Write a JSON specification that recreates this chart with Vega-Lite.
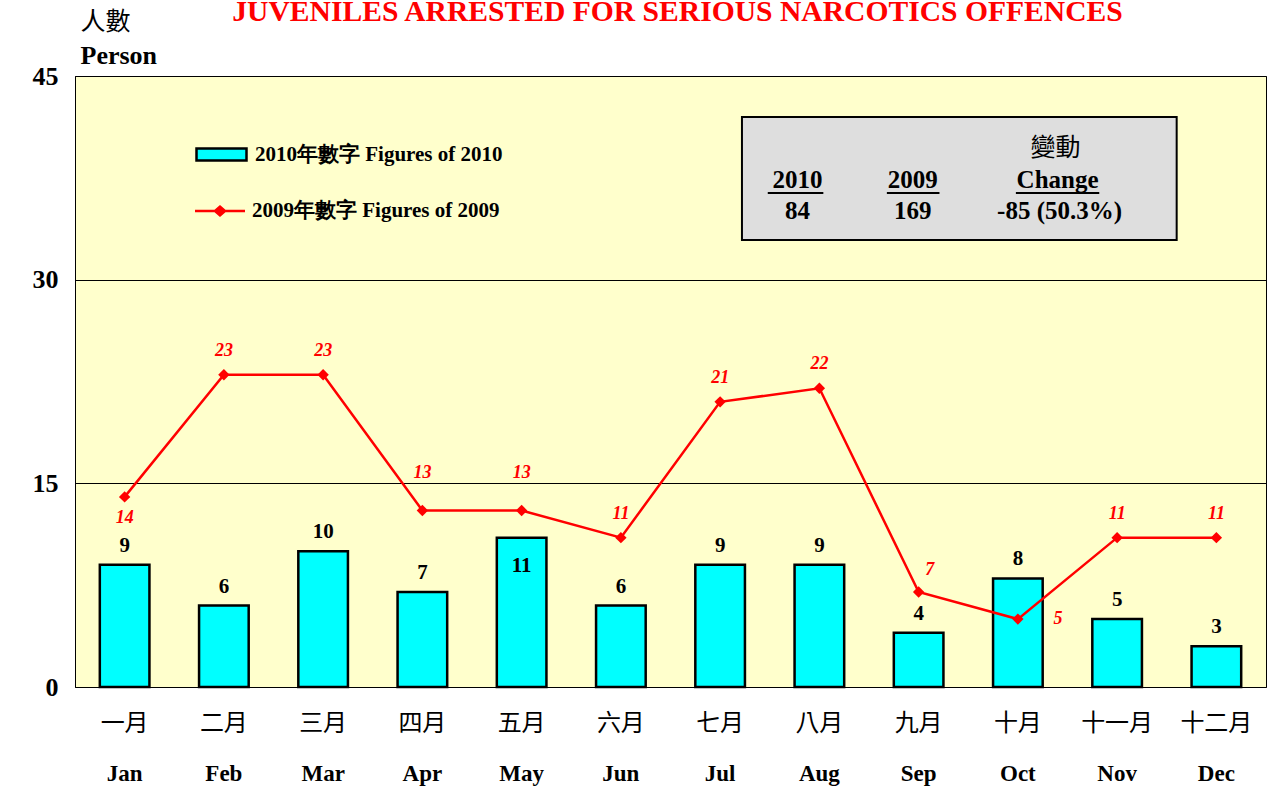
{
  "$schema": "https://vega.github.io/schema/vega-lite/v6.json",
  "width": 1191,
  "height": 611,
  "autosize": "none",
  "padding": {"left": 75, "top": 76, "right": 13, "bottom": 120},
  "background": "white",
  "config": {
    "view": {"fill": "#FFFFCC", "stroke": "black", "strokeWidth": 1},
    "font": "Liberation Serif"
  },
  "title": {
    "text": "JUVENILES ARRESTED FOR SERIOUS NARCOTICS OFFENCES",
    "color": "#FF0000",
    "font": "Liberation Serif",
    "fontSize": 29.6,
    "fontWeight": "bold",
    "anchor": "middle",
    "frame": "group",
    "dx": 7,
    "offset": 0,
    "dy": 42,
    "baseline": "alphabetic"
  },
  "datasets": {
    "months": [
      {"m": "一月|Jan", "en": "Jan", "y2010": 9, "y2009": 14},
      {"m": "二月|Feb", "en": "Feb", "y2010": 6, "y2009": 23},
      {"m": "三月|Mar", "en": "Mar", "y2010": 10, "y2009": 23},
      {"m": "四月|Apr", "en": "Apr", "y2010": 7, "y2009": 13},
      {"m": "五月|May", "en": "May", "y2010": 11, "y2009": 13},
      {"m": "六月|Jun", "en": "Jun", "y2010": 6, "y2009": 11},
      {"m": "七月|Jul", "en": "Jul", "y2010": 9, "y2009": 21},
      {"m": "八月|Aug", "en": "Aug", "y2010": 9, "y2009": 22},
      {"m": "九月|Sep", "en": "Sep", "y2010": 4, "y2009": 7},
      {"m": "十月|Oct", "en": "Oct", "y2010": 8, "y2009": 5},
      {"m": "十一月|Nov", "en": "Nov", "y2010": 5, "y2009": 11},
      {"m": "十二月|Dec", "en": "Dec", "y2010": 3, "y2009": 11}
    ],
    "box": [{"x1": 6.72, "x2": 11.1, "y1": 32.92, "y2": 41.98}],
    "tbl": [
      {"t": "變動", "cx": 9.88, "cy": 39.7},
      {"t": "2010", "cx": 7.28, "cy": 37.34},
      {"t": "2009", "cx": 8.44, "cy": 37.34},
      {"t": "Change", "cx": 9.9, "cy": 37.34},
      {"t": "84", "cx": 7.28, "cy": 35.06},
      {"t": "169", "cx": 8.44, "cy": 35.06},
      {"t": "-85 (50.3%)", "cx": 9.92, "cy": 35.06}
    ],
    "ul": [
      {"x1": 6.98, "x2": 7.54, "y": 36.38},
      {"x1": 8.18, "x2": 8.71, "y": 36.38},
      {"x1": 9.48, "x2": 10.32, "y": 36.38}
    ]
  },
  "layer": [
    {
      "data": {"name": "months"},
      "layer": [
        {
          "mark": {"type": "bar", "stroke": "black", "strokeWidth": 2.5},
          "encoding": {
            "x": {
              "field": "m", "type": "nominal", "sort": null,
              "scale": {"paddingInner": 0.5, "paddingOuter": 0.25},
              "axis": {
                "orient": "bottom", "labelExpr": "split(datum.value,'|')[0]", "labelAngle": 0,
                "labelFont": "Noto Sans CJK TC", "labelFontSize": 24, "labelFontWeight": "normal",
                "labelColor": "black", "labelBaseline": "middle", "labelPadding": 36,
                "ticks": false, "domain": false, "grid": false, "title": null
              }
            },
            "y": {
              "field": "y2010", "type": "quantitative",
              "scale": {"domain": [0, 45], "nice": false},
              "axis": {
                "orient": "left", "values": [0, 15, 30, 45], "grid": true, "gridColor": "black",
                "gridWidth": 1, "gridOpacity": 1, "domain": true, "domainColor": "black",
                "ticks": false, "labelFont": "Liberation Serif", "labelFontSize": 26,
                "labelFontWeight": "bold", "labelColor": "black", "labelPadding": 17,
                "title": "Person", "titleAngle": 0, "titleAlign": "left", "titleBaseline": "middle",
                "titleX": 5, "titleY": -21, "titleFont": "Liberation Serif", "titleFontSize": 26,
                "titleFontWeight": "bold", "titleColor": "black"
              }
            },
            "fill": {
              "datum": "2010年數字 Figures of 2010",
              "scale": {"range": ["#00FFFF"]},
              "legend": {
                "orient": "none", "legendX": 120, "legendY": 52, "title": null,
                "symbolType": "M-1,-0.24H1V0.24H-1Z", "symbolSize": 2500,
                "symbolStrokeColor": "black", "symbolStrokeWidth": 2.5,
                "labelFont": "Liberation Serif", "labelFontSize": 21, "labelFontWeight": "bold",
                "labelColor": "black", "labelOffset": 7, "labelLimit": 500, "padding": 0
              }
            }
          }
        },
        {
          "mark": {"type": "line", "color": "#FF0000", "strokeWidth": 2.5},
          "encoding": {
            "x": {
              "field": "m", "type": "nominal", "sort": null,
              "axis": {
                "orient": "bottom", "labelExpr": "split(datum.value,'|')[1]", "labelAngle": 0,
                "labelFont": "Liberation Serif", "labelFontSize": 23, "labelFontWeight": "bold",
                "labelColor": "black", "labelBaseline": "middle", "labelPadding": 86,
                "ticks": false, "domain": false, "grid": false, "title": null
              }
            },
            "y": {
              "field": "y2009", "type": "quantitative",
              "axis": {
                "orient": "left", "labels": false, "ticks": false, "domain": false, "grid": false,
                "title": "人數", "titleAngle": 0, "titleAlign": "left", "titleBaseline": "middle",
                "titleX": 5, "titleY": -55, "titleFont": "Noto Sans CJK TC", "titleFontSize": 25,
                "titleFontWeight": "normal", "titleColor": "black"
              }
            }
          }
        },
        {
          "mark": {"type": "point", "shape": "diamond", "filled": true, "size": 130, "opacity": 1},
          "encoding": {
            "x": {"field": "m", "type": "nominal", "sort": null, "axis": null},
            "y": {"field": "y2009", "type": "quantitative", "axis": null},
            "color": {
              "datum": "2009年數字 Figures of 2009",
              "scale": {"range": ["#FF0000"]},
              "legend": {
                "orient": "none", "legendX": 120, "legendY": 110, "title": null,
                "symbolType": "M-1,-0.05H-0.22L0,-0.24L0.22,-0.05H1V0.05H0.22L0,0.24L-0.22,0.05H-1Z",
                "symbolSize": 2500, "symbolStrokeWidth": 0, "symbolOpacity": 1,
                "labelFont": "Liberation Serif", "labelFontSize": 21, "labelFontWeight": "bold",
                "labelColor": "black", "labelOffset": 7, "labelLimit": 500, "padding": 0
              }
            }
          }
        },
        {
          "transform": [{"filter": "datum.en != 'May'"}],
          "mark": {"type": "text", "dy": -13, "baseline": "alphabetic", "fontSize": 21, "fontWeight": "bold", "font": "Liberation Serif", "color": "black"},
          "encoding": {
            "x": {"field": "m", "type": "nominal", "sort": null, "axis": null},
            "y": {"field": "y2010", "type": "quantitative", "axis": null},
            "text": {"field": "y2010"}
          }
        },
        {
          "transform": [{"filter": "datum.en == 'May'"}],
          "mark": {"type": "text", "dy": 34, "baseline": "alphabetic", "fontSize": 21, "fontWeight": "bold", "font": "Liberation Serif", "color": "black"},
          "encoding": {
            "x": {"field": "m", "type": "nominal", "sort": null, "axis": null},
            "y": {"field": "y2010", "type": "quantitative", "axis": null},
            "text": {"field": "y2010"}
          }
        },
        {
          "transform": [{"filter": {"field": "en", "oneOf": ["Feb", "Mar", "Jun", "Jul", "Aug", "Nov", "Dec"]}}],
          "mark": {"type": "text", "dy": -24, "baseline": "middle", "fontSize": 18, "fontWeight": "bold", "fontStyle": "italic", "font": "Liberation Serif", "color": "#FF0000"},
          "encoding": {
            "x": {"field": "m", "type": "nominal", "sort": null, "axis": null},
            "y": {"field": "y2009", "type": "quantitative", "axis": null},
            "text": {"field": "y2009"}
          }
        },
        {
          "transform": [{"filter": {"field": "en", "oneOf": ["Apr", "May"]}}],
          "mark": {"type": "text", "dy": -37, "baseline": "middle", "fontSize": 18, "fontWeight": "bold", "fontStyle": "italic", "font": "Liberation Serif", "color": "#FF0000"},
          "encoding": {
            "x": {"field": "m", "type": "nominal", "sort": null, "axis": null},
            "y": {"field": "y2009", "type": "quantitative", "axis": null},
            "text": {"field": "y2009"}
          }
        },
        {
          "transform": [{"filter": "datum.en == 'Jan'"}],
          "mark": {"type": "text", "dy": 21, "baseline": "middle", "fontSize": 18, "fontWeight": "bold", "fontStyle": "italic", "font": "Liberation Serif", "color": "#FF0000"},
          "encoding": {
            "x": {"field": "m", "type": "nominal", "sort": null, "axis": null},
            "y": {"field": "y2009", "type": "quantitative", "axis": null},
            "text": {"field": "y2009"}
          }
        },
        {
          "transform": [{"filter": "datum.en == 'Sep'"}],
          "mark": {"type": "text", "dx": 11, "dy": -22, "baseline": "middle", "fontSize": 18, "fontWeight": "bold", "fontStyle": "italic", "font": "Liberation Serif", "color": "#FF0000"},
          "encoding": {
            "x": {"field": "m", "type": "nominal", "sort": null, "axis": null},
            "y": {"field": "y2009", "type": "quantitative", "axis": null},
            "text": {"field": "y2009"}
          }
        },
        {
          "transform": [{"filter": "datum.en == 'Oct'"}],
          "mark": {"type": "text", "dx": 40, "dy": 0, "baseline": "middle", "fontSize": 18, "fontWeight": "bold", "fontStyle": "italic", "font": "Liberation Serif", "color": "#FF0000"},
          "encoding": {
            "x": {"field": "m", "type": "nominal", "sort": null, "axis": null},
            "y": {"field": "y2009", "type": "quantitative", "axis": null},
            "text": {"field": "y2009"}
          }
        }
      ],
      "resolve": {"axis": {"x": "independent", "y": "independent"}}
    },
    {
      "layer": [
        {
          "data": {"name": "box"},
          "mark": {"type": "rect", "fill": "#DEDEDE", "stroke": "black", "strokeWidth": 2},
          "encoding": {
            "x": {"field": "x1", "type": "quantitative", "scale": {"domain": [0, 12], "nice": false, "zero": false}, "axis": null},
            "x2": {"field": "x2"},
            "y": {"field": "y1", "type": "quantitative", "axis": null},
            "y2": {"field": "y2"}
          }
        },
        {
          "data": {"name": "tbl"},
          "transform": [{"filter": "datum.t != '變動'"}],
          "mark": {"type": "text", "baseline": "middle", "align": "center", "fontSize": 25, "fontWeight": "bold", "font": "Liberation Serif", "color": "black"},
          "encoding": {
            "x": {"field": "cx", "type": "quantitative", "axis": null},
            "y": {"field": "cy", "type": "quantitative", "axis": null},
            "text": {"field": "t"}
          }
        },
        {
          "data": {"name": "tbl"},
          "transform": [{"filter": "datum.t == '變動'"}],
          "mark": {"type": "text", "baseline": "middle", "align": "center", "fontSize": 25, "fontWeight": "normal", "font": "Noto Sans CJK TC", "color": "black"},
          "encoding": {
            "x": {"field": "cx", "type": "quantitative", "axis": null},
            "y": {"field": "cy", "type": "quantitative", "axis": null},
            "text": {"field": "t"}
          }
        },
        {
          "data": {"name": "ul"},
          "mark": {"type": "rule", "stroke": "black", "strokeWidth": 2},
          "encoding": {
            "x": {"field": "x1", "type": "quantitative", "axis": null},
            "x2": {"field": "x2"},
            "y": {"field": "y", "type": "quantitative", "axis": null}
          }
        }
      ]
    }
  ],
  "resolve": {"scale": {"x": "independent"}, "axis": {"x": "independent", "y": "independent"}}
}
